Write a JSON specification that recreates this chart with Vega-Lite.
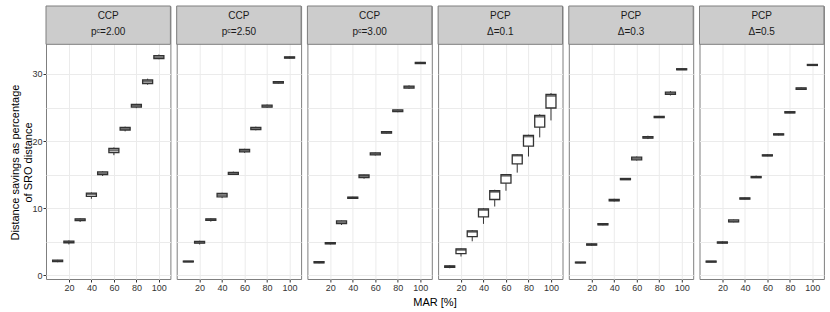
{
  "$schema": "https://vega.github.io/schema/vega-lite/v6.json",
  "padding": {"left": 9, "top": 5, "right": 3, "bottom": 0},
  "data": {"values": [
    {"panel": "1", "strip": "CCP\npᶜ=2.00", "mar": 10, "lo": 1.95, "q1": 2.05, "med": 2.15, "q3": 2.25, "hi": 2.3},
    {"panel": "1", "strip": "CCP\npᶜ=2.00", "mar": 20, "lo": 4.6, "q1": 4.85, "med": 4.97, "q3": 5.1, "hi": 5.2},
    {"panel": "1", "strip": "CCP\npᶜ=2.00", "mar": 30, "lo": 7.95, "q1": 8.15, "med": 8.3, "q3": 8.42, "hi": 8.5},
    {"panel": "1", "strip": "CCP\npᶜ=2.00", "mar": 40, "lo": 11.4, "q1": 11.75, "med": 12.1, "q3": 12.25, "hi": 12.35},
    {"panel": "1", "strip": "CCP\npᶜ=2.00", "mar": 50, "lo": 14.8, "q1": 15.0, "med": 15.2, "q3": 15.4, "hi": 15.5},
    {"panel": "1", "strip": "CCP\npᶜ=2.00", "mar": 60, "lo": 17.9, "q1": 18.3, "med": 18.65, "q3": 18.9, "hi": 19.05},
    {"panel": "1", "strip": "CCP\npᶜ=2.00", "mar": 70, "lo": 21.45, "q1": 21.65, "med": 21.85, "q3": 22.05, "hi": 22.15},
    {"panel": "1", "strip": "CCP\npᶜ=2.00", "mar": 80, "lo": 24.9, "q1": 25.05, "med": 25.25, "q3": 25.45, "hi": 25.55},
    {"panel": "1", "strip": "CCP\npᶜ=2.00", "mar": 90, "lo": 28.4, "q1": 28.55, "med": 28.85, "q3": 29.1, "hi": 29.3},
    {"panel": "1", "strip": "CCP\npᶜ=2.00", "mar": 100, "lo": 32.2, "q1": 32.3, "med": 32.5, "q3": 32.75, "hi": 32.9},
    {"panel": "2", "strip": "CCP\npᶜ=2.50", "mar": 10, "lo": 1.98, "q1": 2.0, "med": 2.05, "q3": 2.1, "hi": 2.12},
    {"panel": "2", "strip": "CCP\npᶜ=2.50", "mar": 20, "lo": 4.6, "q1": 4.8, "med": 4.9, "q3": 5.05, "hi": 5.15},
    {"panel": "2", "strip": "CCP\npᶜ=2.50", "mar": 30, "lo": 8.0, "q1": 8.2, "med": 8.3, "q3": 8.42, "hi": 8.5},
    {"panel": "2", "strip": "CCP\npᶜ=2.50", "mar": 40, "lo": 11.5, "q1": 11.7, "med": 11.95, "q3": 12.2, "hi": 12.3},
    {"panel": "2", "strip": "CCP\npᶜ=2.50", "mar": 50, "lo": 14.95, "q1": 15.05, "med": 15.2, "q3": 15.35, "hi": 15.45},
    {"panel": "2", "strip": "CCP\npᶜ=2.50", "mar": 60, "lo": 18.25, "q1": 18.4, "med": 18.55, "q3": 18.75, "hi": 18.85},
    {"panel": "2", "strip": "CCP\npᶜ=2.50", "mar": 70, "lo": 21.6, "q1": 21.7, "med": 21.9, "q3": 22.05, "hi": 22.15},
    {"panel": "2", "strip": "CCP\npᶜ=2.50", "mar": 80, "lo": 24.95, "q1": 25.05, "med": 25.2, "q3": 25.35, "hi": 25.45},
    {"panel": "2", "strip": "CCP\npᶜ=2.50", "mar": 90, "lo": 28.6, "q1": 28.65, "med": 28.75, "q3": 28.85, "hi": 28.95},
    {"panel": "2", "strip": "CCP\npᶜ=2.50", "mar": 100, "lo": 32.3, "q1": 32.35, "med": 32.45, "q3": 32.55, "hi": 32.6},
    {"panel": "3", "strip": "CCP\npᶜ=3.00", "mar": 10, "lo": 1.8, "q1": 1.85, "med": 1.95, "q3": 2.02, "hi": 2.08},
    {"panel": "3", "strip": "CCP\npᶜ=3.00", "mar": 20, "lo": 4.6, "q1": 4.68, "med": 4.78, "q3": 4.88, "hi": 4.95},
    {"panel": "3", "strip": "CCP\npᶜ=3.00", "mar": 30, "lo": 7.5, "q1": 7.7, "med": 7.9, "q3": 8.1, "hi": 8.15},
    {"panel": "3", "strip": "CCP\npᶜ=3.00", "mar": 40, "lo": 11.4, "q1": 11.45, "med": 11.55, "q3": 11.65, "hi": 11.7},
    {"panel": "3", "strip": "CCP\npᶜ=3.00", "mar": 50, "lo": 14.4, "q1": 14.55, "med": 14.8, "q3": 14.95, "hi": 15.0},
    {"panel": "3", "strip": "CCP\npᶜ=3.00", "mar": 60, "lo": 17.85, "q1": 17.95, "med": 18.1, "q3": 18.25, "hi": 18.3},
    {"panel": "3", "strip": "CCP\npᶜ=3.00", "mar": 70, "lo": 21.15, "q1": 21.2, "med": 21.3, "q3": 21.4, "hi": 21.45},
    {"panel": "3", "strip": "CCP\npᶜ=3.00", "mar": 80, "lo": 24.3, "q1": 24.4, "med": 24.5, "q3": 24.65, "hi": 24.7},
    {"panel": "3", "strip": "CCP\npᶜ=3.00", "mar": 90, "lo": 27.8, "q1": 27.9, "med": 28.05, "q3": 28.2, "hi": 28.3},
    {"panel": "3", "strip": "CCP\npᶜ=3.00", "mar": 100, "lo": 31.5, "q1": 31.55, "med": 31.65, "q3": 31.72, "hi": 31.8},
    {"panel": "4", "strip": "PCP\nΔ=0.1", "mar": 10, "lo": 1.05, "q1": 1.2, "med": 1.3, "q3": 1.42, "hi": 1.5},
    {"panel": "4", "strip": "PCP\nΔ=0.1", "mar": 20, "lo": 2.8, "q1": 3.23, "med": 3.8, "q3": 3.93, "hi": 4.0},
    {"panel": "4", "strip": "PCP\nΔ=0.1", "mar": 30, "lo": 5.07, "q1": 5.77, "med": 6.5, "q3": 6.62, "hi": 6.72},
    {"panel": "4", "strip": "PCP\nΔ=0.1", "mar": 40, "lo": 7.66, "q1": 8.7, "med": 9.75, "q3": 9.9, "hi": 10.0},
    {"panel": "4", "strip": "PCP\nΔ=0.1", "mar": 50, "lo": 10.25, "q1": 11.3, "med": 12.45, "q3": 12.6, "hi": 12.75},
    {"panel": "4", "strip": "PCP\nΔ=0.1", "mar": 60, "lo": 12.6, "q1": 13.73, "med": 14.85, "q3": 15.0, "hi": 15.1},
    {"panel": "4", "strip": "PCP\nΔ=0.1", "mar": 70, "lo": 15.3, "q1": 16.6, "med": 17.85, "q3": 17.96, "hi": 18.05},
    {"panel": "4", "strip": "PCP\nΔ=0.1", "mar": 80, "lo": 17.7, "q1": 19.25, "med": 20.7, "q3": 20.85, "hi": 20.95},
    {"panel": "4", "strip": "PCP\nΔ=0.1", "mar": 90, "lo": 20.55, "q1": 22.09, "med": 23.65, "q3": 23.83, "hi": 24.0},
    {"panel": "4", "strip": "PCP\nΔ=0.1", "mar": 100, "lo": 23.08, "q1": 24.93, "med": 26.75, "q3": 26.97, "hi": 27.15},
    {"panel": "5", "strip": "PCP\nΔ=0.3", "mar": 10, "lo": 1.8, "q1": 1.85, "med": 1.9, "q3": 1.95, "hi": 1.98},
    {"panel": "5", "strip": "PCP\nΔ=0.3", "mar": 20, "lo": 4.4, "q1": 4.5, "med": 4.58, "q3": 4.68, "hi": 4.75},
    {"panel": "5", "strip": "PCP\nΔ=0.3", "mar": 30, "lo": 7.45, "q1": 7.52, "med": 7.6, "q3": 7.7, "hi": 7.75},
    {"panel": "5", "strip": "PCP\nΔ=0.3", "mar": 40, "lo": 11.0, "q1": 11.1, "med": 11.2, "q3": 11.3, "hi": 11.4},
    {"panel": "5", "strip": "PCP\nΔ=0.3", "mar": 50, "lo": 14.2, "q1": 14.25, "med": 14.33, "q3": 14.43, "hi": 14.5},
    {"panel": "5", "strip": "PCP\nΔ=0.3", "mar": 60, "lo": 17.1, "q1": 17.2, "med": 17.41, "q3": 17.6, "hi": 17.7},
    {"panel": "5", "strip": "PCP\nΔ=0.3", "mar": 70, "lo": 20.3, "q1": 20.45, "med": 20.55, "q3": 20.68, "hi": 20.8},
    {"panel": "5", "strip": "PCP\nΔ=0.3", "mar": 80, "lo": 23.45, "q1": 23.5, "med": 23.58, "q3": 23.68, "hi": 23.75},
    {"panel": "5", "strip": "PCP\nΔ=0.3", "mar": 90, "lo": 26.8, "q1": 26.95, "med": 27.11, "q3": 27.3, "hi": 27.45},
    {"panel": "5", "strip": "PCP\nΔ=0.3", "mar": 100, "lo": 30.6, "q1": 30.63, "med": 30.7, "q3": 30.78, "hi": 30.82},
    {"panel": "6", "strip": "PCP\nΔ=0.5", "mar": 10, "lo": 1.95, "q1": 1.98, "med": 2.04, "q3": 2.1, "hi": 2.12},
    {"panel": "6", "strip": "PCP\nΔ=0.5", "mar": 20, "lo": 4.7, "q1": 4.8, "med": 4.88, "q3": 4.97, "hi": 5.05},
    {"panel": "6", "strip": "PCP\nΔ=0.5", "mar": 30, "lo": 7.9, "q1": 7.95, "med": 8.06, "q3": 8.25, "hi": 8.3},
    {"panel": "6", "strip": "PCP\nΔ=0.5", "mar": 40, "lo": 11.3, "q1": 11.35, "med": 11.44, "q3": 11.55, "hi": 11.6},
    {"panel": "6", "strip": "PCP\nΔ=0.5", "mar": 50, "lo": 14.5, "q1": 14.55, "med": 14.63, "q3": 14.72, "hi": 14.85},
    {"panel": "6", "strip": "PCP\nΔ=0.5", "mar": 60, "lo": 17.75, "q1": 17.8, "med": 17.86, "q3": 17.95, "hi": 18.05},
    {"panel": "6", "strip": "PCP\nΔ=0.5", "mar": 70, "lo": 20.85, "q1": 20.92, "med": 21.0, "q3": 21.08, "hi": 21.15},
    {"panel": "6", "strip": "PCP\nΔ=0.5", "mar": 80, "lo": 24.15, "q1": 24.2, "med": 24.28, "q3": 24.38, "hi": 24.45},
    {"panel": "6", "strip": "PCP\nΔ=0.5", "mar": 90, "lo": 27.65, "q1": 27.72, "med": 27.81, "q3": 27.92, "hi": 27.98},
    {"panel": "6", "strip": "PCP\nΔ=0.5", "mar": 100, "lo": 31.2, "q1": 31.27, "med": 31.34, "q3": 31.42, "hi": 31.48}
  ]},
  "facet": {
    "column": {
      "field": "panel",
      "type": "nominal",
      "title": "MAR [%]",
      "header": {"labels": false, "titleOrient": "bottom", "titleFontSize": 11, "titleFontWeight": "normal", "titleColor": "#000000", "titlePadding": -5, "titleFont": "Liberation Sans"}
    }
  },
  "bounds": "flush",
  "spacing": 5.7,
  "spec": {
    "width": 124.4,
    "height": 273,
    "layer": [
      {
        "transform": [{"filter": "datum.mar == 10"}],
        "mark": {"type": "rect", "fill": "#cccccc", "stroke": "#7f7f7f", "strokeWidth": 1},
        "encoding": {
          "y": {
            "datum": 34.42,
            "type": "quantitative",
            "scale": {"domain": [-0.55, 40.13], "nice": false, "zero": false},
            "title": ["Distance savings as percentage", "of SRO distance"],
            "axis": {
              "title": ["Distance savings as percentage", "of SRO distance"],
              "values": [0, 5, 10, 15, 20, 25, 30],
              "labelExpr": "datum.value % 10 === 0 ? datum.label : ''",
              "tickOpacity": {"condition": {"test": "datum.value % 10 === 0", "value": 1}, "value": 0},
              "grid": true,
              "labelOverlap": false,
              "titleY": 156,
              "titlePadding": -2
            }
          },
          "y2": {"datum": 40.13}
        }
      },
      {
        "transform": [{"filter": "datum.mar == 10"}],
        "mark": {"type": "text", "lineBreak": "\n", "lineHeight": 16, "fontSize": 10, "color": "#1a1a1a", "baseline": "middle", "font": "Liberation Sans, DejaVu Sans"},
        "encoding": {
          "text": {"field": "strip", "type": "nominal"},
          "y": {"datum": 38.6, "type": "quantitative", "title": ["Distance savings as percentage", "of SRO distance"]}
        }
      },
      {
        "mark": {"type": "rule", "color": "#333333", "strokeWidth": 1},
        "encoding": {
          "x": {
            "field": "mar",
            "type": "quantitative",
            "scale": {"domain": [4.1, 105.8], "nice": false, "zero": false},
            "axis": {"values": [20, 40, 60, 80, 100], "grid": true, "title": null, "labelOverlap": false}
          },
          "y": {"field": "lo", "type": "quantitative", "title": ["Distance savings as percentage", "of SRO distance"]},
          "y2": {"field": "hi"}
        }
      },
      {
        "mark": {"type": "bar", "size": 10, "fill": "#ffffff", "stroke": "#333333", "strokeWidth": 1.3},
        "encoding": {
          "x": {"field": "mar", "type": "quantitative", "title": null, "axis": {"values": [20, 40, 60, 80, 100], "labelOverlap": false}},
          "y": {"field": "q1", "type": "quantitative", "title": ["Distance savings as percentage", "of SRO distance"]},
          "y2": {"field": "q3"}
        }
      },
      {
        "mark": {"type": "tick", "orient": "horizontal", "size": 10, "thickness": 2, "color": "#333333"},
        "encoding": {
          "x": {"field": "mar", "type": "quantitative", "title": null, "axis": {"values": [20, 40, 60, 80, 100], "labelOverlap": false}},
          "y": {"field": "med", "type": "quantitative", "title": ["Distance savings as percentage", "of SRO distance"]}
        }
      }
    ]
  },
  "config": {
    "font": "Liberation Sans",
    "view": {"stroke": "#7f7f7f", "strokeWidth": 1},
    "axis": {
      "domain": false,
      "gridColor": "#ebebeb",
      "gridWidth": 1,
      "tickColor": "#333333",
      "tickSize": 3,
      "labelFontSize": 9,
      "labelColor": "#333333",
      "labelPadding": 1,
      "titleFontWeight": "normal",
      "titleFontSize": 11,
      "titleColor": "#000000"
    },
    "axisX": {"labelOverlap": false, "labelFlush": false}
  }
}
